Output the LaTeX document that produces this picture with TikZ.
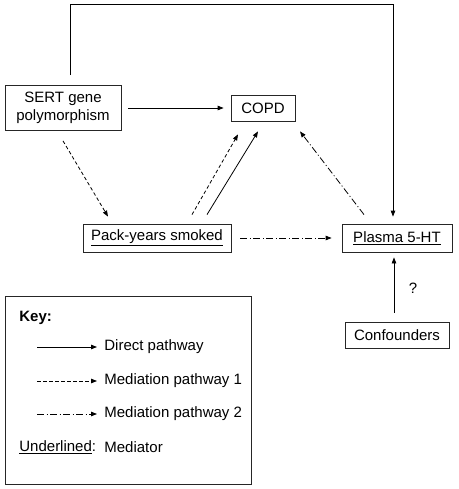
\documentclass[tikz,border=0pt]{standalone}
\usepackage{fontspec}
\setmainfont{Liberation Sans}
\usepackage{tikz}
\usetikzlibrary{positioning,arrows.meta}

\begin{document}
\begin{tikzpicture}[
        x=1pt, y=-1pt,
        font=\fontsize{15}{18}\selectfont,
        every path/.style={line width=0.8pt},
        box/.style={rectangle, draw=black!85, line width=0.8pt, inner sep=0pt, align=center},
        direct/.style={-{Triangle[length=6pt,width=4.5pt]}},
        medone/.style={-{Triangle[length=6pt,width=4.5pt]}, dash pattern=on 3.5pt off 2.5pt},
        medtwo/.style={-{Triangle[length=6pt,width=4.5pt]}, dash pattern=on 7pt off 2.5pt on 1pt off 2.5pt}
        ]
        \useasboundingbox (0,0) rectangle (458,489);

        \node[box, minimum width=116pt, minimum height=45pt] (sert)     at (63,108)  {SERT gene\\polymorphism};
        \node[box, minimum width=64pt,  minimum height=26pt] (copd)     at (263,108) {COPD};
        \node[box, minimum width=148pt, minimum height=28pt] (pack)     at (157,238) {\underline{Pack-years smoked}};
        \node[box, minimum width=110pt, minimum height=28pt] (plasma)   at (397,238) {\underline{Plasma 5-HT}};
        \node[box, minimum width=104pt, minimum height=26pt] (confound) at (397,335) {Confounders};
        \node (question) at (413,288) {?};

        %Lines
        \draw[direct] ([shift={(7,-10)}]sert.north) -- ++(0,-71) -| ([shift={(-4,-7)}]plasma.north);
        \draw[direct, shorten <=7pt, shorten >=7pt] (sert) -- (copd);
        \draw[medone] ([shift={(0,10)}]sert.south) -- ([shift={(-49,-7)}]pack.north);
        \draw[medone] ([shift={(35,-9)}]pack.north) -- ([shift={(-25,13)}]copd.south);
        \draw[direct] ([shift={(50,-9)}]pack.north) -- ([shift={(-5,10)}]copd.south);
        \draw[medtwo] ([shift={(-33,-9)}]plasma.north) -- ([shift={(37,10)}]copd.south);
        \draw[medtwo, shorten <=9pt, shorten >=10pt] (pack) -- (plasma);
        \draw[direct] ([shift={(-3,-9)}]confound.north) -- ([shift={(-3,5)}]plasma.south);

        %Key
        \draw[draw=black!85] (5,296) rectangle (251,484);
        \node[anchor=west, inner sep=0pt, font=\fontsize{15}{18}\selectfont\bfseries] (key) at (19,318) {Key:};
        \coordinate (lineA) at (37,347);
        \coordinate (lineB) at (37,381);
        \coordinate (lineC) at (37,414);
        \node[anchor=west, inner sep=0pt] (directlbl) at (104,347) {Direct pathway};
        \node[anchor=west, inner sep=0pt] (medonelbl) at (104,381) {Mediation pathway 1};
        \node[anchor=west, inner sep=0pt] (medtwolbl) at (104,414) {Mediation pathway 2};
        \draw[direct] (lineA) -- ([xshift=-7pt]directlbl.west);
        \draw[medone] (lineB) -- ([xshift=-7pt]medonelbl.west);
        \draw[medtwo] (lineC) -- ([xshift=-7pt]medtwolbl.west);
        \node[anchor=west, inner sep=0pt] (underlbl) at (19,447) {\underline{Underlined}:};
        \node[anchor=west, inner sep=0pt] (mediator) at (104,447) {Mediator};

    \end{tikzpicture}
\end{document}
